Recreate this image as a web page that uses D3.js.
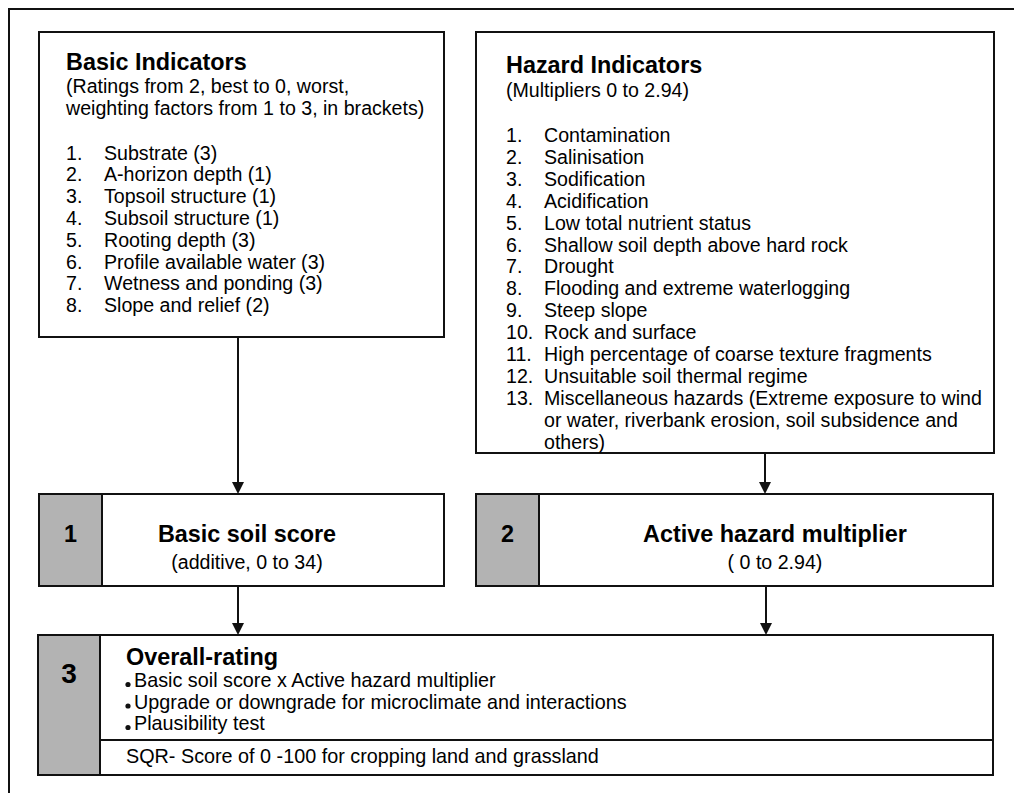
<!DOCTYPE html>
<html>
<head>
<meta charset="utf-8">
<script src="https://cdn.jsdelivr.net/npm/d3@7"></script>
<style>
  body { margin: 0; background: #fff; }
  text { font-family: "Liberation Sans", Arial, Helvetica, sans-serif; fill: #000; }
</style>
</head>
<body>
<div id="chart"></div>
<script>
// ---- content ----
const basicTitle = 'Basic Indicators';
const basicSubtitle = ['(Ratings from 2, best to 0, worst,', 'weighting factors from 1 to 3, in brackets)'];
const basicItems = [
    'Substrate (3)',
    'A-horizon depth (1)',
    'Topsoil structure (1)',
    'Subsoil structure (1)',
    'Rooting depth (3)',
    'Profile available water (3)',
    'Wetness and ponding (3)',
    'Slope and relief (2)'
];

const hazardTitle = 'Hazard Indicators';
const hazardSubtitle = ['(Multipliers 0 to 2.94)'];
const hazardItems = [
    'Contamination',
    'Salinisation',
    'Sodification',
    'Acidification',
    'Low total nutrient status',
    'Shallow soil depth above hard rock',
    'Drought',
    'Flooding and extreme waterlogging',
    'Steep slope',
    'Rock and surface',
    'High percentage of coarse texture fragments',
    'Unsuitable soil thermal regime',
    'Miscellaneous hazards (Extreme exposure to wind\nor water, riverbank erosion, soil subsidence and\nothers)'
];

const stepNumbers = ['1', '2'];
const stepTitles = ['Basic soil score', 'Active hazard multiplier'];
const stepSubtitles = ['(additive, 0 to 34)', '( 0 to 2.94)'];

const overallNumber = '3';
const overallTitle = 'Overall-rating';
const overallBullets = [
    'Basic soil score x Active hazard multiplier',
    'Upgrade or downgrade for microclimate and interactions',
    'Plausibility test'
];
const overallFooter = 'SQR- Score of 0 -100 for cropping land and grassland';

// ---- layout ----
const width = 1014, height = 793;
const ink = '#111';
const grey = '#b3b3b3';
const bodySize = 19.6, boldSize = 23.4;

const svg = d3.select('#chart')
    .append('svg')
    .attr('width', width)
    .attr('height', height);

// outer frame (only top and left edges fall inside the picture)
svg.append('path')
    .attr('d', `M9,${height + 5} V9 H${width + 5}`)
    .attr('fill', 'none')
    .attr('stroke', ink)
    .attr('stroke-width', 2);

function box(x, y, w, h, fill) {
    svg.append('rect')
        .attr('x', x).attr('y', y)
        .attr('width', w).attr('height', h)
        .attr('fill', fill || '#fff')
        .attr('stroke', ink)
        .attr('stroke-width', 2);
}

function indicatorBox(cfg, title, subtitle, items) {
    box(cfg.x, cfg.y, cfg.w, cfg.h);
    const g = svg.append('g');
    g.append('text')
        .attr('x', cfg.tx).attr('y', cfg.titleY)
        .attr('font-size', boldSize).attr('font-weight', 'bold')
        .text(title);
    g.selectAll('text.sub')
        .data(subtitle)
        .enter().append('text')
        .attr('class', 'sub')
        .attr('x', cfg.tx)
        .attr('y', (d, i) => cfg.subY + i * cfg.lh)
        .attr('font-size', bodySize)
        .text(d => d);

    const rows = g.selectAll('g.item')
        .data(items)
        .enter().append('g')
        .attr('class', 'item')
        .attr('transform', (d, i) => `translate(0,${cfg.itemY + i * cfg.lh})`);
    rows.append('text')
        .attr('x', cfg.tx)
        .attr('font-size', bodySize)
        .text((d, i) => (i + 1) + '.');
    rows.append('text')
        .attr('x', cfg.ix)
        .attr('font-size', bodySize)
        .selectAll('tspan')
        .data(d => d.split('\n'))
        .enter().append('tspan')
        .attr('x', cfg.ix)
        .attr('dy', (d, i) => i === 0 ? 0 : cfg.lh)
        .text(d => d);
}

indicatorBox({ x: 39, y: 32, w: 405, h: 305, tx: 66, ix: 104, titleY: 70, subY: 93, itemY: 159.5, lh: 21.8 },
    basicTitle, basicSubtitle, basicItems);
indicatorBox({ x: 476, y: 32, w: 518, h: 421, tx: 506, ix: 544, titleY: 73, subY: 97, itemY: 142, lh: 21.9 },
    hazardTitle, hazardSubtitle, hazardItems);

// step boxes 1 and 2
const stepBoxes = [
    { x: 39, y: 494, w: 405, h: 92, gw: 63, cx: 247 },
    { x: 476, y: 494, w: 517, h: 92, gw: 63, cx: 775 }
];
stepBoxes.forEach((b, i) => {
    box(b.x, b.y, b.w, b.h);
    box(b.x, b.y, b.gw, b.h, grey);
    svg.append('text')
        .attr('x', b.x + b.gw / 2).attr('y', 542)
        .attr('text-anchor', 'middle')
        .attr('font-size', boldSize).attr('font-weight', 'bold')
        .text(stepNumbers[i]);
    svg.append('text')
        .attr('x', b.cx).attr('y', 542)
        .attr('text-anchor', 'middle')
        .attr('font-size', boldSize).attr('font-weight', 'bold')
        .text(stepTitles[i]);
    svg.append('text')
        .attr('x', b.cx).attr('y', 569)
        .attr('text-anchor', 'middle')
        .attr('font-size', bodySize)
        .text(stepSubtitles[i]);
});

// overall rating box
const ov = { x: 38, y: 635, w: 955, h: 140, gw: 62, divY: 740 };
box(ov.x, ov.y, ov.w, ov.h);
box(ov.x, ov.y, ov.gw, ov.h, grey);
svg.append('line')
    .attr('x1', ov.x + ov.gw).attr('x2', ov.x + ov.w)
    .attr('y1', ov.divY).attr('y2', ov.divY)
    .attr('stroke', ink)
    .attr('stroke-width', 2);
svg.append('text')
    .attr('x', ov.x + ov.gw / 2).attr('y', 683)
    .attr('text-anchor', 'middle')
    .attr('font-size', 28).attr('font-weight', 'bold')
    .text(overallNumber);
svg.append('text')
    .attr('x', 126).attr('y', 665)
    .attr('font-size', boldSize).attr('font-weight', 'bold')
    .text(overallTitle);
const bullets = svg.selectAll('g.bullet')
    .data(overallBullets)
    .enter().append('g')
    .attr('class', 'bullet')
    .attr('transform', (d, i) => `translate(0,${687 + i * 21.5})`);
bullets.append('circle')
    .attr('cx', 128).attr('cy', -2.5).attr('r', 2.6)
    .attr('fill', ink);
bullets.append('text')
    .attr('x', 134)
    .attr('font-size', 19.8)
    .text(d => d);
svg.append('text')
    .attr('x', 126).attr('y', 763)
    .attr('font-size', 19.8)
    .text(overallFooter);

// arrows
const arrows = [
    { x: 238, y1: 337, y2: 494 },
    { x: 765, y1: 453, y2: 494 },
    { x: 238, y1: 586, y2: 635 },
    { x: 766, y1: 586, y2: 635 }
];
const headL = 12, headW = 6;
svg.selectAll('line.arrow')
    .data(arrows)
    .enter().append('line')
    .attr('class', 'arrow')
    .attr('x1', d => d.x).attr('x2', d => d.x)
    .attr('y1', d => d.y1).attr('y2', d => d.y2 - headL + 1)
    .attr('stroke', ink)
    .attr('stroke-width', 2);
svg.selectAll('path.head')
    .data(arrows)
    .enter().append('path')
    .attr('class', 'head')
    .attr('d', d => `M${d.x - headW},${d.y2 - headL} L${d.x + headW},${d.y2 - headL} L${d.x},${d.y2} Z`)
    .attr('fill', ink);
</script>
</body>
</html>
